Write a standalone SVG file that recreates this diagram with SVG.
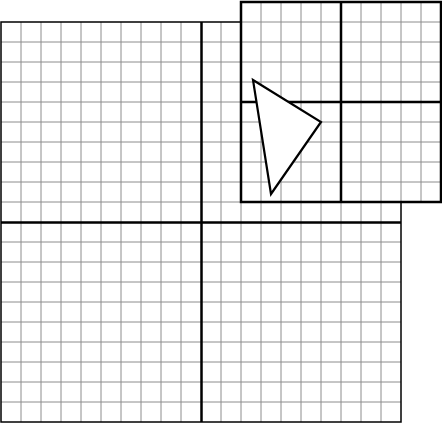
<svg xmlns="http://www.w3.org/2000/svg" width="442" height="423" viewBox="0 0 442 423">
<defs>
<style>
.thin{stroke:#8c8c8c;stroke-width:1;fill:none}
.thick{stroke:#000;stroke-width:2.5;fill:none}
.border{stroke:#000;stroke-width:1.5;fill:none}
</style>
</defs>
<rect width="442" height="423" fill="#fff"/>
<g id="big-grid">
<path class="thin" d="M21 22V422M41 22V422M61 22V422M81 22V422M101 22V422M121 22V422M141 22V422M161 22V422M181 22V422M221 22V422M241 22V422M261 22V422M281 22V422M301 22V422M321 22V422M341 22V422M361 22V422M381 22V422M1 42H401M1 62H401M1 82H401M1 102H401M1 122H401M1 142H401M1 162H401M1 182H401M1 202H401M1 242H401M1 262H401M1 282H401M1 302H401M1 322H401M1 342H401M1 362H401M1 382H401M1 402H401"/>
<path class="thick" d="M201.5 22V422M1 222.5H401"/>
<rect class="border" x="1" y="22" width="400" height="400"/>
</g>
<g id="overlay-grid">
<rect x="241" y="2" width="200" height="200" fill="#fff"/>
<path class="thin" d="M261 2V202M281 2V202M301 2V202M321 2V202M361 2V202M381 2V202M401 2V202M421 2V202M241 22H441M241 42H441M241 62H441M241 82H441M241 122H441M241 142H441M241 162H441M241 182H441"/>
<path class="thick" d="M341 2V202M241 102H441"/>
<rect class="thick" x="241" y="2" width="200" height="200"/>
</g>
<g id="triangle">
<polygon points="253,80 321,122 271,194" fill="#fff" stroke="#000" stroke-width="2.2" stroke-linejoin="miter"/>
</g>
</svg>
